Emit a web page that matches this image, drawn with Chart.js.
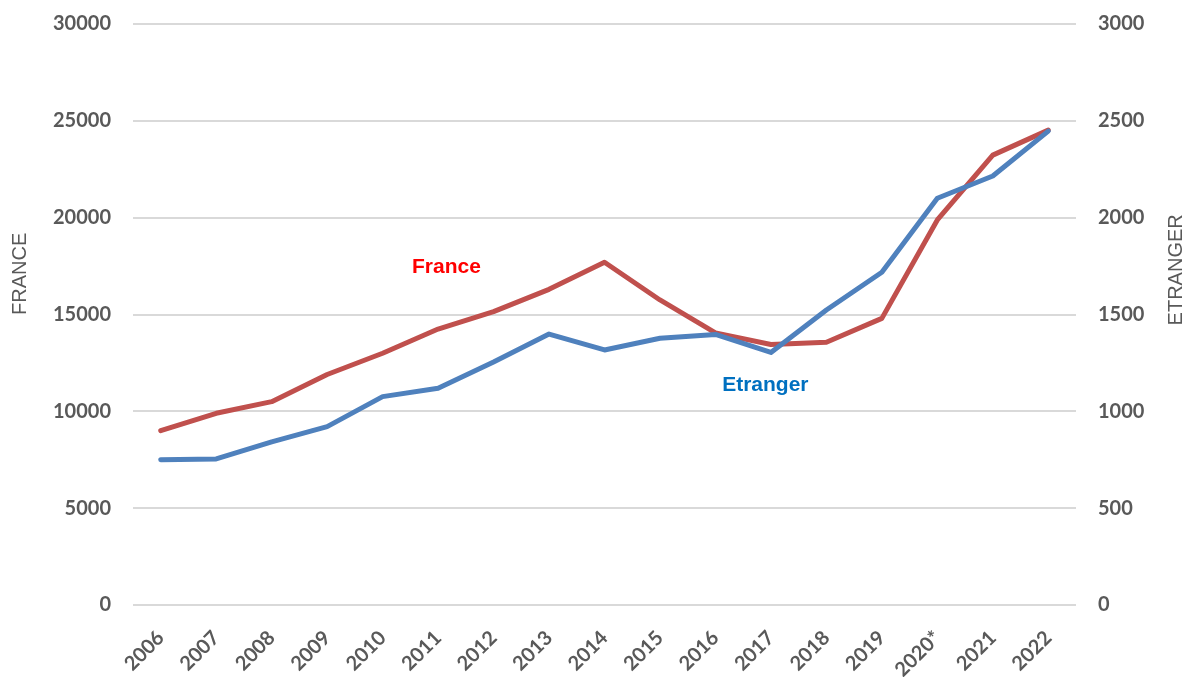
<!DOCTYPE html>
<html>
<head>
<meta charset="utf-8">
<script src="https://cdn.jsdelivr.net/npm/chart.js"></script>
<style>
  html, body { margin: 0; padding: 0; background: #fff; }
  #wrap { width: 1186px; height: 677px; }
</style>
</head>
<body>
<div id="wrap"><canvas id="chart" width="1186" height="677"></canvas></div>
<script>
// data
const years = ['2006', '2007', '2008', '2009', '2010', '2011', '2012', '2013', '2014',
               '2015', '2016', '2017', '2018', '2019', '2020*', '2021', '2022'];
const france = [9000, 9900, 10500, 11900, 13000, 14250, 15150, 16300, 17700,
                15750, 14050, 13450, 13570, 14800, 19880, 23230, 24520];
const etranger = [750, 754, 842, 921, 1076, 1119, 1255, 1399, 1317,
                  1377, 1397, 1304, 1523, 1718, 2100, 2215, 2447];

const leftTitle = 'FRANCE';
const rightTitle = 'ETRANGER';
// inline labels: [text, category position, value on its axis]
const franceLabel = ['France', 5.15, 17450];
const etrangerLabel = ['Etranger', 10.9, 1135];

const grey = '#595959';
const tickFont = { family: 'Lato', size: 20, weight: 'bold' };

// axis titles + inline series names
const extras = {
    id: 'extras',
    afterDatasetsDraw(chart) {
        const { ctx, scales } = chart;
        ctx.save();
        ctx.font = 'bold 21px "Liberation Sans"';
        ctx.textAlign = 'center';
        ctx.textBaseline = 'middle';
        ctx.fillStyle = '#FF0000';
        ctx.fillText(franceLabel[0], scales.x.getPixelForValue(franceLabel[1]), scales.y.getPixelForValue(franceLabel[2]));
        ctx.fillStyle = '#0070C0';
        ctx.fillText(etrangerLabel[0], scales.x.getPixelForValue(etrangerLabel[1]), scales.y1.getPixelForValue(etrangerLabel[2]));
        ctx.restore();
    },
    afterDraw(chart) {
        const { ctx, chartArea, width } = chart;
        const cy = chartArea.top + (chartArea.bottom - chartArea.top) * 0.43;
        const title = (text, x, y) => {
            ctx.save();
            ctx.font = '20px "Liberation Sans"';
            ctx.fillStyle = grey;
            ctx.textAlign = 'center';
            ctx.textBaseline = 'middle';
            ctx.translate(x, y);
            ctx.rotate(-Math.PI / 2);
            ctx.fillText(text, 0, 0);
            ctx.restore();
        };
        title(leftTitle, 20, cy);
        title(rightTitle, width - 10, cy - 4);
    }
};

// fixed axis sizes, no extra label padding above/below the plot
const fitY = (w) => (s) => { s.width = w; s.paddingTop = 0; s.paddingBottom = 0; };

new Chart(document.getElementById('chart'), {
    type: 'line',
    data: {
        labels: years,
        datasets: [{
            label: 'France',
            data: france,
            yAxisID: 'y',
            borderColor: '#C0504D',
            borderWidth: 5,
            pointRadius: 0,
            tension: 0,
            borderCapStyle: 'round',
            borderJoinStyle: 'round',
            order: 1
        }, {
            label: 'Etranger',
            data: etranger,
            yAxisID: 'y1',
            borderColor: '#4F81BD',
            borderWidth: 5,
            pointRadius: 0,
            tension: 0,
            borderCapStyle: 'round',
            borderJoinStyle: 'round',
            order: 0
        }]
    },
    options: {
        responsive: false,
        devicePixelRatio: 1,
        animation: false,
        layout: { padding: { top: 24 } },
        plugins: { legend: { display: false }, tooltip: { enabled: false } },
        scales: {
            x: {
                offset: true,
                grid: { display: false },
                border: { display: false },
                ticks: { color: grey, font: tickFont, minRotation: 45, maxRotation: 45, padding: 13, autoSkip: false },
                afterFit(s) { s.height = 72; }
            },
            y: {
                position: 'left',
                min: 0, max: 30000,
                grid: { color: '#D9D9D9', lineWidth: 2, drawTicks: false },
                border: { display: false },
                ticks: { stepSize: 5000, color: grey, font: tickFont, padding: 22, format: { useGrouping: false } },
                afterFit: fitY(133)
            },
            y1: {
                position: 'right',
                min: 0, max: 3000,
                grid: { display: false, drawTicks: false },
                border: { display: false },
                ticks: { stepSize: 500, color: grey, font: tickFont, padding: 22, format: { useGrouping: false } },
                afterFit: fitY(110)
            }
        }
    },
    plugins: [extras]
});
</script>
</body>
</html>
